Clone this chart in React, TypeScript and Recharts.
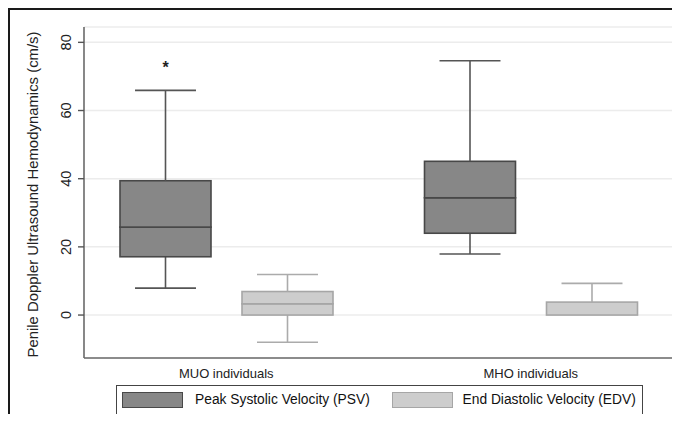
import React from "react";
import { ComposedChart, Bar, XAxis, YAxis, CartesianGrid } from "recharts";

// box plot summaries (cm/s)
const groups = ["MUO individuals", "MHO individuals"];

const psvMin = [7.9, 17.9];
const psvQ1 = [17.1, 24.0];
const psvMedian = [25.8, 34.4];
const psvQ3 = [39.4, 45.1];
const psvMax = [65.9, 74.6];
const psvOutlier: (number | null)[] = [73.6, null];

const edvMin = [-8.0, 0];
const edvQ1 = [0, 0];
const edvMedian = [3.3, 0];
const edvQ3 = [6.9, 3.8];
const edvMax = [11.9, 9.3];
const edvOutlier: (number | null)[] = [null, null];

const yTicks = [0, 20, 40, 60, 80];

const FONT = "'Liberation Sans', Arial, Helvetica, sans-serif";

const PSV = { fill: "#878787", stroke: "#484848", whisker: "#555555" };
const EDV = { fill: "#cdcdcd", stroke: "#a6a6a6", whisker: "#ababab" };

// stacked segments: base (hidden) -> lower whisker -> box halves -> upper whisker -> gap to outlier
const data = groups.map((name, i) => ({
  name,
  psvBase: psvMin[i],
  psvLow: psvQ1[i] - psvMin[i],
  psvBoxLow: psvMedian[i] - psvQ1[i],
  psvBoxHigh: psvQ3[i] - psvMedian[i],
  psvHigh: psvMax[i] - psvQ3[i],
  psvOut: psvOutlier[i] == null ? 0 : (psvOutlier[i] as number) - psvMax[i],
  edvBase: edvMin[i],
  edvLow: edvQ1[i] - edvMin[i],
  edvBoxLow: edvMedian[i] - edvQ1[i],
  edvBoxHigh: edvQ3[i] - edvMedian[i],
  edvHigh: edvMax[i] - edvQ3[i],
  edvOut: edvOutlier[i] == null ? 0 : (edvOutlier[i] as number) - edvMax[i],
}));

const span = (p: any) => {
  const y = Number(p.y) || 0;
  const h = Number(p.height) || 0;
  return { top: Math.min(y, y + h), bottom: Math.max(y, y + h), h: Math.abs(h) };
};

const hidden = () => <g />;

const whisker = (color: string, end: "top" | "bottom") => (p: any) => {
  const { top, bottom, h } = span(p);
  if (h < 0.5) return <g />;
  const cx = p.x + p.width / 2;
  const capW = p.width * 0.67;
  const capY = end === "top" ? top : bottom;
  return (
    <g>
      <line x1={cx} x2={cx} y1={top} y2={bottom} stroke={color} strokeWidth={1.6} />
      <line x1={cx - capW / 2} x2={cx + capW / 2} y1={capY} y2={capY} stroke={color} strokeWidth={1.6} />
    </g>
  );
};

const box = (fill: string, stroke: string) => (p: any) => {
  const { top, h } = span(p);
  if (h < 0.5) return <g />;
  return <rect x={p.x} y={top} width={p.width} height={h} fill={fill} stroke={stroke} strokeWidth={1.6} />;
};

const outlier = (p: any) => {
  const { top, h } = span(p);
  if (h < 0.5) return <g />;
  const cx = p.x + p.width / 2;
  return (
    <text x={cx} y={top + 9} textAnchor="middle" fontSize={16} fontWeight="bold" fill="#222" fontFamily={FONT}>
      *
    </text>
  );
};

const YTick = (props: any) => {
  const { x, y, payload } = props;
  return (
    <text
      x={x}
      y={y}
      transform={`rotate(-90 ${x} ${y})`}
      textAnchor="middle"
      fontSize={14.5}
      fill="#222"
      fontFamily={FONT}
    >
      {payload.value}
    </text>
  );
};

const XTick = (props: any) => {
  const { x, y, payload } = props;
  return (
    <text x={x} y={y} dy="0.71em" textAnchor="middle" fontSize={13} fill="#222" fontFamily={FONT}>
      {payload.value}
    </text>
  );
};

const yTitle = (props: any) => {
  const vb = props.viewBox || { x: 0, y: 17, height: 331 };
  const x = vb.x + 27.5;
  const y = vb.y + vb.height / 2 + 2;
  return (
    <text
      x={x}
      y={y}
      transform={`rotate(-90 ${x} ${y})`}
      textAnchor="middle"
      fontSize={14.9}
      fill="#222"
      fontFamily={FONT}
    >
      Penile Doppler Ultrasound Hemodynamics (cm/s)
    </text>
  );
};

function BoxLegend() {
  const swatch = (left: number, c: { fill: string; stroke: string }) => ({
    position: "absolute" as const,
    left,
    top: 5.5,
    width: 61,
    height: 16,
    boxSizing: "border-box" as const,
    background: c.fill,
    border: `1.5px solid ${c.stroke}`,
  });
  const label = (left: number) => ({
    position: "absolute" as const,
    left,
    top: 0,
    height: 27,
    lineHeight: "27px",
    fontSize: 13.8,
    color: "#111",
    whiteSpace: "nowrap" as const,
  });
  return (
    <div
      style={{
        position: "absolute",
        left: 106,
        top: 375,
        width: 527,
        height: 30,
        boxSizing: "border-box",
        border: "1.5px solid #444",
        background: "#fff",
        fontFamily: FONT,
      }}
    >
      <div style={swatch(5.2, PSV)} />
      <div style={label(78)}>Peak Systolic Velocity (PSV)</div>
      <div style={swatch(274.5, EDV)} />
      <div style={label(345.5)}>End Diastolic Velocity (EDV)</div>
    </div>
  );
}

export default function App() {
  return (
    <div
      style={{
        position: "relative",
        width: 672,
        height: 406,
        boxSizing: "border-box",
        borderTop: "2px solid #1a1a1a",
        borderLeft: "2px solid #1a1a1a",
        background: "#fff",
      }}
    >
      <ComposedChart
        width={670}
        height={404}
        data={data}
        margin={{ top: 17, right: 7, bottom: 0, left: 0 }}
        barSize={91}
        barGap={31}
      >
        <CartesianGrid vertical={false} stroke="#ececec" strokeWidth={1.5} />
        <XAxis
          dataKey="name"
          type="category"
          height={56}
          padding={{ left: -10, right: -10 }}
          tickLine={false}
          tickSize={0}
          tickMargin={11}
          axisLine={{ stroke: "#6a6a6a", strokeWidth: 1.6 }}
          tick={XTick}
        />
        <YAxis
          type="number"
          domain={[-12.6, 84.5]}
          allowDataOverflow
          ticks={yTicks}
          width={74}
          tickSize={6}
          tickMargin={7}
          axisLine={{ stroke: "#6a6a6a", strokeWidth: 1.6 }}
          tickLine={{ stroke: "#555", strokeWidth: 1.4 }}
          tick={YTick}
          label={yTitle}
        />

        <Bar dataKey="psvBase" stackId="psv" shape={hidden} isAnimationActive={false} />
        <Bar dataKey="psvLow" stackId="psv" shape={whisker(PSV.whisker, "bottom")} isAnimationActive={false} />
        <Bar dataKey="psvBoxLow" stackId="psv" shape={box(PSV.fill, PSV.stroke)} isAnimationActive={false} />
        <Bar dataKey="psvBoxHigh" stackId="psv" shape={box(PSV.fill, PSV.stroke)} isAnimationActive={false} />
        <Bar dataKey="psvHigh" stackId="psv" shape={whisker(PSV.whisker, "top")} isAnimationActive={false} />
        <Bar dataKey="psvOut" stackId="psv" shape={outlier} isAnimationActive={false} />

        <Bar dataKey="edvBase" stackId="edv" shape={hidden} isAnimationActive={false} />
        <Bar dataKey="edvLow" stackId="edv" shape={whisker(EDV.whisker, "bottom")} isAnimationActive={false} />
        <Bar dataKey="edvBoxLow" stackId="edv" shape={box(EDV.fill, EDV.stroke)} isAnimationActive={false} />
        <Bar dataKey="edvBoxHigh" stackId="edv" shape={box(EDV.fill, EDV.stroke)} isAnimationActive={false} />
        <Bar dataKey="edvHigh" stackId="edv" shape={whisker(EDV.whisker, "top")} isAnimationActive={false} />
        <Bar dataKey="edvOut" stackId="edv" shape={outlier} isAnimationActive={false} />
      </ComposedChart>
      <BoxLegend />
    </div>
  );
}
